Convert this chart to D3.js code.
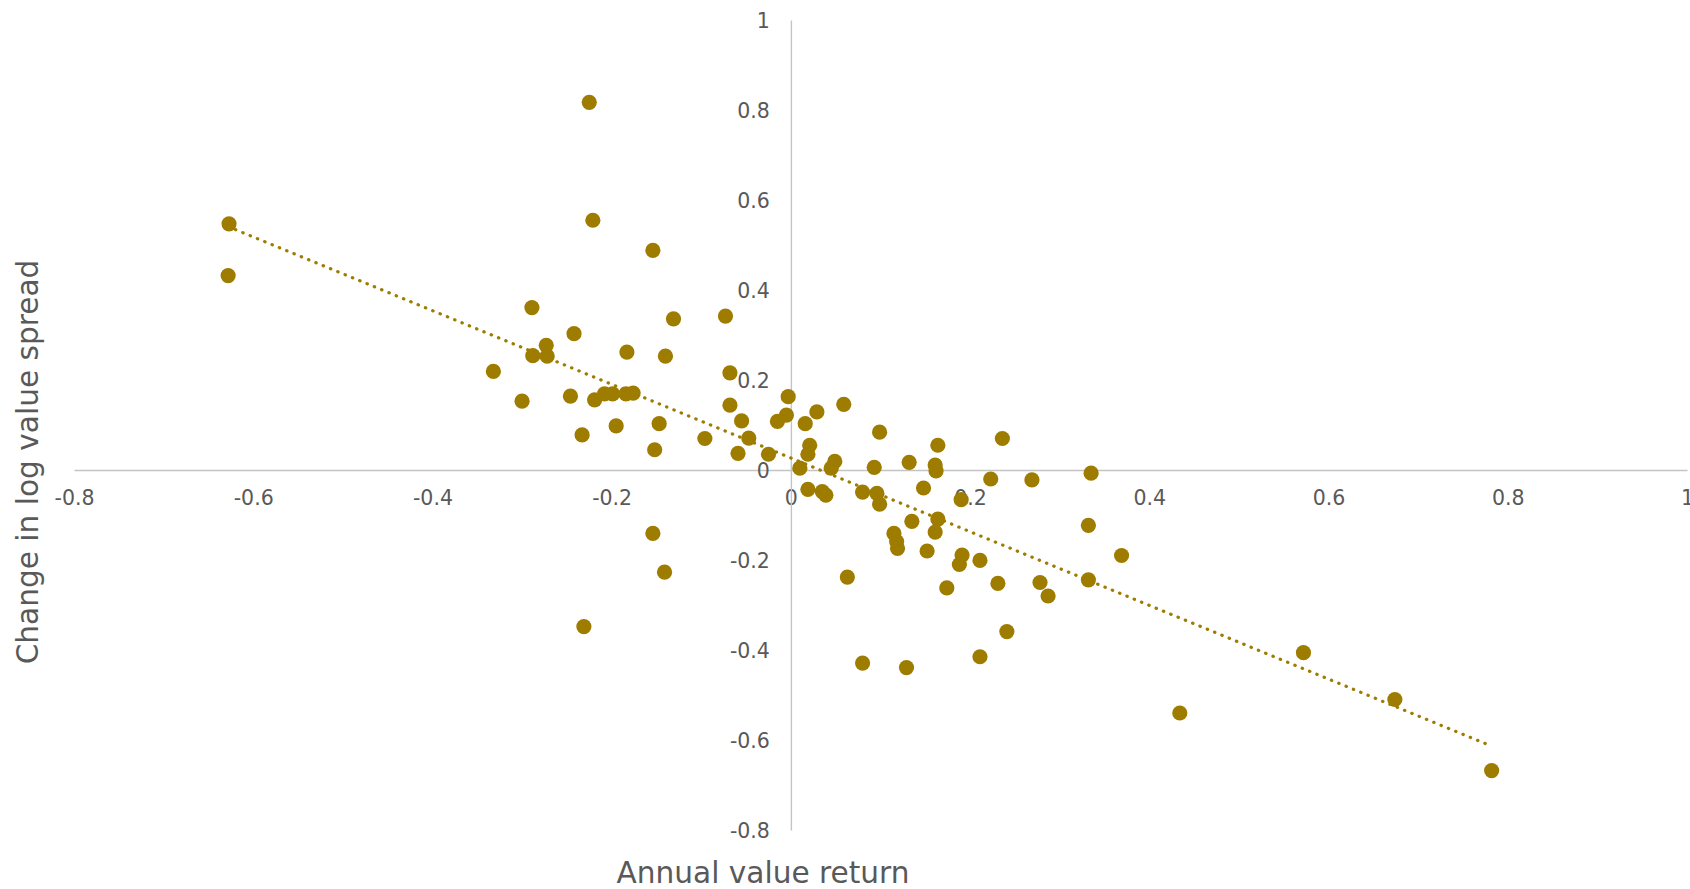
<!DOCTYPE html>
<html>
<head>
<meta charset="utf-8">
<script src="https://cdn.jsdelivr.net/npm/d3@7"></script>
<style>
  html, body { margin: 0; padding: 0; background: #ffffff; }
  svg { display: block; }
</style>
</head>
<body>
<svg id="chart" width="1690" height="889"></svg>
<script>
// ---- data ----
const annualReturn = [
  -0.627, -0.628, -0.225, -0.221, -0.154, -0.289, -0.073, -0.131, -0.242, -0.273,
  -0.288, -0.272, -0.183, -0.140, -0.332, -0.068, -0.300, -0.246, -0.219, -0.208,
  -0.199, -0.184, -0.176, -0.233, -0.195, -0.147, -0.152, -0.096, -0.068, -0.055,
  -0.047, -0.059, -0.025, -0.003, -0.005, -0.015, 0.016, 0.029, 0.059, 0.021,
  0.019, 0.010, 0.049, 0.045, 0.099, 0.093, 0.132, 0.164, 0.161, 0.162,
  0.236, 0.223, 0.269, 0.335, 0.019, 0.035, 0.039, 0.080, 0.096, 0.099,
  0.148, 0.190, 0.135, 0.164, 0.161, 0.115, 0.118, 0.119, 0.152, 0.191,
  0.188, 0.211, 0.174, 0.231, 0.278, 0.287, 0.332, 0.369, 0.332, 0.241,
  0.211, 0.063, 0.080, 0.129, -0.154, -0.141, -0.231, 0.434, 0.572, 0.674,
  0.782
];
const spreadChange = [
  0.547, 0.432, 0.817, 0.555, 0.488, 0.361, 0.342, 0.336, 0.303, 0.277,
  0.254, 0.253, 0.262, 0.253, 0.219, 0.216, 0.153, 0.164, 0.156, 0.169,
  0.169, 0.169, 0.171, 0.078, 0.098, 0.103, 0.045, 0.070, 0.144, 0.109,
  0.071, 0.037, 0.035, 0.163, 0.122, 0.108, 0.103, 0.129, 0.146, 0.055,
  0.035, 0.004, 0.019, 0.004, 0.084, 0.006, 0.017, 0.055, 0.011, -0.002,
  0.070, -0.020, -0.022, -0.007, -0.043, -0.048, -0.056, -0.049, -0.052, -0.076,
  -0.040, -0.066, -0.114, -0.109, -0.138, -0.141, -0.159, -0.174, -0.180, -0.189,
  -0.210, -0.201, -0.262, -0.252, -0.250, -0.280, -0.123, -0.190, -0.244, -0.359,
  -0.415, -0.238, -0.429, -0.439, -0.141, -0.227, -0.348, -0.540, -0.406, -0.510,
  -0.668
];
const xTicks = [-0.8, -0.6, -0.4, -0.2, 0, 0.2, 0.4, 0.6, 0.8, 1];
const yTicks = [-0.8, -0.6, -0.4, -0.2, 0, 0.2, 0.4, 0.6, 0.8, 1];
const xTitle = "Annual value return";
const yTitle = "Change in log value spread";

// ---- layout ----
const svg = d3.select("#chart");
const plotLeft = 74, plotRight = 1687, plotTop = 20, plotBottom = 830;
const dotColor = "#9e7c00";
const axisColor = "#c4c4c4";
const textColor = "#595959";
const font = "'DejaVu Sans', sans-serif";

const x = d3.scaleLinear().domain([-0.8, 1]).range([plotLeft, plotRight]);
const y = d3.scaleLinear().domain([-0.8, 1]).range([plotBottom, plotTop]);
const fmt = d => String(+d.toFixed(1));

const points = annualReturn.map((v, i) => ({ x: v, y: spreadChange[i] }));

// x axis through y = 0
const gx = svg.append("g")
  .attr("transform", `translate(0,${y(0)})`)
  .call(d3.axisBottom(x).tickValues(xTicks).tickFormat(fmt).tickSize(0).tickSizeOuter(0).tickPadding(20));
// y axis through x = 0
const gy = svg.append("g")
  .attr("transform", `translate(${x(0)},0)`)
  .call(d3.axisLeft(y).tickValues(yTicks).tickFormat(fmt).tickSize(0).tickSizeOuter(0).tickPadding(21));

[gx, gy].forEach(g => {
  g.select(".domain").attr("stroke", axisColor).attr("stroke-width", 1.4);
  g.selectAll("text").attr("fill", textColor).style("font-family", font).style("font-size", "20.5px");
});
gy.selectAll("text").attr("dy", "0.36em");

// points
svg.append("g").selectAll("circle")
  .data(points)
  .join("circle")
  .attr("cx", d => x(d.x))
  .attr("cy", d => y(d.y))
  .attr("r", 7.6)
  .attr("fill", dotColor);

// linear trendline (least squares over the points)
const mx = d3.mean(points, d => d.x), my = d3.mean(points, d => d.y);
const sxy = d3.sum(points, d => (d.x - mx) * (d.y - my));
const sxx = d3.sum(points, d => (d.x - mx) * (d.x - mx));
const slope = sxy / sxx, intercept = my - slope * mx;
const [x0, x1] = d3.extent(points, d => d.x);
svg.append("path")
  .datum([x0, x1])
  .attr("d", d3.line().x(v => x(v)).y(v => y(intercept + slope * v)))
  .attr("fill", "none")
  .attr("stroke", dotColor)
  .attr("stroke-width", 3.2)
  .attr("stroke-linecap", "round")
  .attr("stroke-dasharray", "0.4 7.5");

// axis titles
svg.append("text")
  .attr("x", 763).attr("y", 883)
  .attr("text-anchor", "middle")
  .attr("fill", textColor)
  .style("font-family", font).style("font-size", "29.6px")
  .text(xTitle);
svg.append("text")
  .attr("transform", `translate(38,462) rotate(-90)`)
  .attr("text-anchor", "middle")
  .attr("fill", textColor)
  .style("font-family", font).style("font-size", "29.6px")
  .text(yTitle);
</script>
</body>
</html>
